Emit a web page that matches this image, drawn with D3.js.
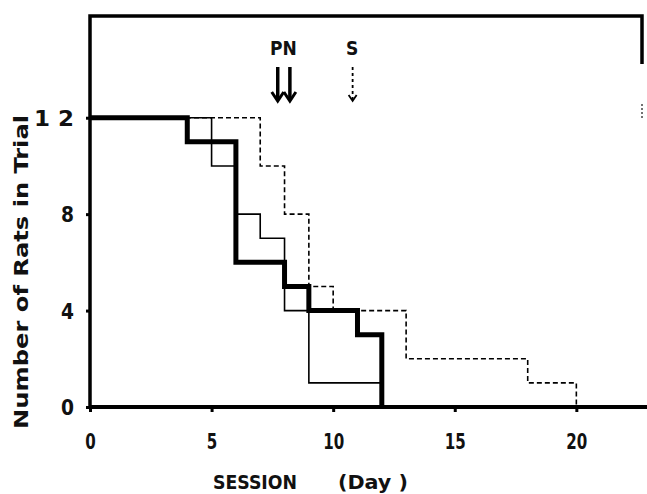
<!DOCTYPE html>
<html>
<head>
<meta charset="utf-8">
<script src="https://cdn.jsdelivr.net/npm/d3@7"></script>
<style>
  html, body { margin: 0; padding: 0; background: #fff; }
  text { font-family: "Liberation Sans Narrow", "DejaVu Sans Condensed", "DejaVu Sans", sans-serif; font-weight: bold; fill: #111; }
</style>
</head>
<body>
<div id="chart"></div>
<script>
// step data: session (day) where count changes, and count from then on
const thickDays = [0, 4, 6, 8, 9, 11, 12];
const thickRats = [12, 11, 6, 5, 4, 3, 0];
const thinDays = [0, 5, 6, 7, 8, 9, 12];
const thinRats = [12, 10, 8, 7, 4, 1, 0];
const dashDays = [0, 7, 8, 9, 10, 13, 18, 20];
const dashRats = [12, 10, 8, 5, 4, 2, 1, 0];

const xTicks = [0, 5, 10, 15, 20];
const yTicks = [0, 4, 8, 12];
const yTickLabels = ['0', '4', '8', '1 2'];

// marker arrows above the plot
const markerDays = [7.72, 8.22, 10.8];
const markerKinds = ['solid', 'solid', 'dashed'];
const markerLabels = ['PN', 'S'];
const markerLabelDays = [7.95, 10.78];

const width = 647, height = 494;
const margin = { top: 16, right: 5, bottom: 87, left: 90 };
const fontStack = '"Liberation Sans Narrow", "DejaVu Sans Condensed", "DejaVu Sans", sans-serif';

const svg = d3.select('#chart')
  .append('svg')
  .attr('width', width)
  .attr('height', height);

const x = d3.scaleLinear()
  .domain([0, 22.7])
  .range([margin.left, width - margin.right]);

const y = d3.scaleLinear()
  .domain([0, 16.22])
  .range([height - margin.bottom, margin.top]);

// frame: top, left, partial right edge
const x0 = x.range()[0], x1 = x.range()[1];
const yb = y.range()[0], yt = y.range()[1];
svg.append('path')
  .attr('d', `M${x0},${yb} L${x0},${yt} L${x1},${yt} L${x1},${yt + 48}`)
  .attr('fill', 'none')
  .attr('stroke', '#000')
  .attr('stroke-width', 3.5);
svg.append('line')
  .attr('x1', x1).attr('x2', x1)
  .attr('y1', yt + 88).attr('y2', yt + 102)
  .attr('stroke', '#444')
  .attr('stroke-width', 1.5)
  .attr('stroke-dasharray', '2,2');

// x axis
const xAxis = svg.append('g')
  .attr('transform', `translate(0,${yb})`)
  .call(d3.axisBottom(x).tickValues(xTicks).tickSize(5).tickPadding(22).tickFormat(d3.format('d')));
xAxis.select('.domain')
  .attr('d', `M${x0},0H${width}`)
  .attr('stroke', '#000')
  .attr('stroke-width', 4);
xAxis.selectAll('.tick line').attr('stroke-width', 3);
xAxis.selectAll('.tick text')
  .attr('font-size', 21)
  .attr('textLength', d => String(d).length * 10.5)
  .attr('lengthAdjust', 'spacingAndGlyphs')
  .style('font-family', fontStack)
  .style('font-weight', 'bold')
  .attr('fill', '#111');

// y axis
const yAxis = svg.append('g')
  .attr('transform', `translate(${x0},0)`)
  .call(d3.axisLeft(y).tickValues(yTicks).tickSize(4).tickPadding(12)
    .tickFormat((d, i) => yTickLabels[i]));
yAxis.select('.domain').remove();
yAxis.selectAll('.tick line').attr('stroke-width', 3);
yAxis.selectAll('.tick text')
  .attr('font-size', 21)
  .attr('dy', '0.36em')
  .attr('textLength', d => d === 12 ? 40 : 13)
  .attr('lengthAdjust', 'spacingAndGlyphs')
  .style('font-family', fontStack)
  .style('font-weight', 'bold')
  .attr('fill', '#111');

// step lines
const stepLine = d3.line()
  .x(d => x(d[0]))
  .y(d => y(d[1]))
  .curve(d3.curveStepAfter);

const series = [
  { days: thinDays, rats: thinRats, w: 1.6, dash: null },
  { days: dashDays, rats: dashRats, w: 1.6, dash: '5,3' },
  { days: thickDays, rats: thickRats, w: 5, dash: null }
];

svg.append('g')
  .selectAll('path')
  .data(series)
  .join('path')
  .attr('d', s => stepLine(d3.zip(s.days, s.rats)))
  .attr('fill', 'none')
  .attr('stroke', '#000')
  .attr('stroke-width', s => s.w)
  .attr('stroke-dasharray', s => s.dash)
  .attr('stroke-linejoin', 'miter');

// event arrows
const arrowTop = 67, arrowBottom = 101;
const arrows = svg.append('g')
  .selectAll('g')
  .data(markerDays.map((d, i) => ({ day: d, kind: markerKinds[i] })))
  .join('g')
  .attr('transform', d => `translate(${x(d.day)},0)`);

arrows.append('line')
  .attr('y1', arrowTop)
  .attr('y2', arrowBottom - 1)
  .attr('stroke', '#000')
  .attr('stroke-width', d => d.kind === 'solid' ? 3.5 : 1.8)
  .attr('stroke-dasharray', d => d.kind === 'solid' ? null : '3,3');

arrows.append('path')
  .attr('d', d => d.kind === 'solid'
    ? `M-6,${arrowBottom - 9} L0,${arrowBottom} L6,${arrowBottom - 9}`
    : `M-4,${arrowBottom - 6} L0,${arrowBottom} L4,${arrowBottom - 6}`)
  .attr('fill', 'none')
  .attr('stroke', '#000')
  .attr('stroke-width', d => d.kind === 'solid' ? 3 : 1.8);

svg.append('g')
  .selectAll('text')
  .data(markerLabels)
  .join('text')
  .attr('x', (d, i) => x(markerLabelDays[i]))
  .attr('y', 55)
  .attr('text-anchor', 'middle')
  .attr('font-size', 19)
  .text(d => d);

// axis titles
svg.append('text')
  .attr('x', 213)
  .attr('y', 489)
  .attr('font-size', 20)
  .attr('textLength', 84)
  .attr('lengthAdjust', 'spacingAndGlyphs')
  .text('SESSION');
svg.append('text')
  .attr('x', 338)
  .attr('y', 489)
  .attr('font-size', 20)
  .attr('textLength', 70)
  .attr('lengthAdjust', 'spacingAndGlyphs')
  .text('(Day )');

svg.append('text')
  .attr('transform', 'translate(28,272) rotate(-90)')
  .attr('text-anchor', 'middle')
  .attr('font-size', 19)
  .attr('textLength', 314)
  .attr('lengthAdjust', 'spacingAndGlyphs')
  .text('Number of Rats in Trial');
</script>
</body>
</html>
